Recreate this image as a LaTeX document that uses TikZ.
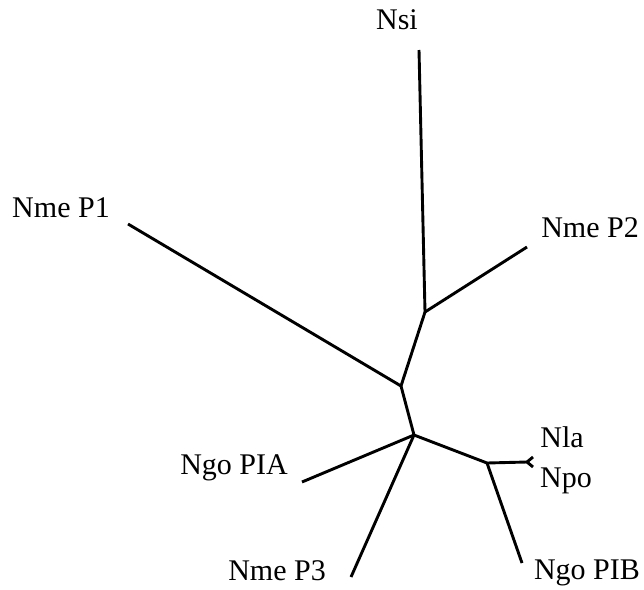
\documentclass[tikz,border=0pt]{standalone}
\usepackage{fontspec}
\setmainfont{Liberation Serif}
\begin{document}
\begin{tikzpicture}[x=1pt, y=-1pt, line width=2.9pt,
  every node/.style={font=\fontsize{30}{36}\selectfont, inner sep=0pt}]
            \useasboundingbox (0,0) rectangle (644,589);
            % inner nodes of the tree
            \coordinate (u1) at (425,312);
            \coordinate (u2) at (401,386);
            \coordinate (u3) at (414,435);
            \coordinate (u4) at (487,463);
            \coordinate (u5) at (527,462);
            % leaves
            \coordinate (nsi) at (419,50);
            \coordinate (nmep2) at (527,247);
            \coordinate (nmep1) at (128,224);
            \coordinate (ngopia) at (302,482);
            \coordinate (nmep3) at (351,577);
            \coordinate (ngopib) at (522,563);
            \coordinate (nla) at (533,457);
            \coordinate (npo) at (533,467);

            \node at (397,20)  (lnsi)    {Nsi};
            \node at (590,228) (lnmep2)  {Nme P2};
            \node at (61,208)  (lnmep1)  {Nme P1};
            \node at (234,468) (lngopia) {Ngo PIA};
            \node at (277,571) (lnmep3)  {Nme P3};
            \node at (587,573) (lngopib) {Ngo PIB};
            \node at (562,437) (lnla)    {Nla};
            \node at (566,481) (lnpo)    {Npo};

            \draw (nsi) -- (u1);
            \draw (nmep2) -- (u1);
            \draw (u1) -- (u2);
            \draw (nmep1) -- (u2);
            \draw (u2) -- (u3);
            \draw (ngopia) -- (u3);
            \draw (nmep3) -- (u3);
            \draw (u3) -- (u4);
            \draw (u4) -- (ngopib);
            \draw (u4) -- (u5);
            \draw (u5) -- (nla);
            \draw (u5) -- (npo);
        \end{tikzpicture}
\end{document}
